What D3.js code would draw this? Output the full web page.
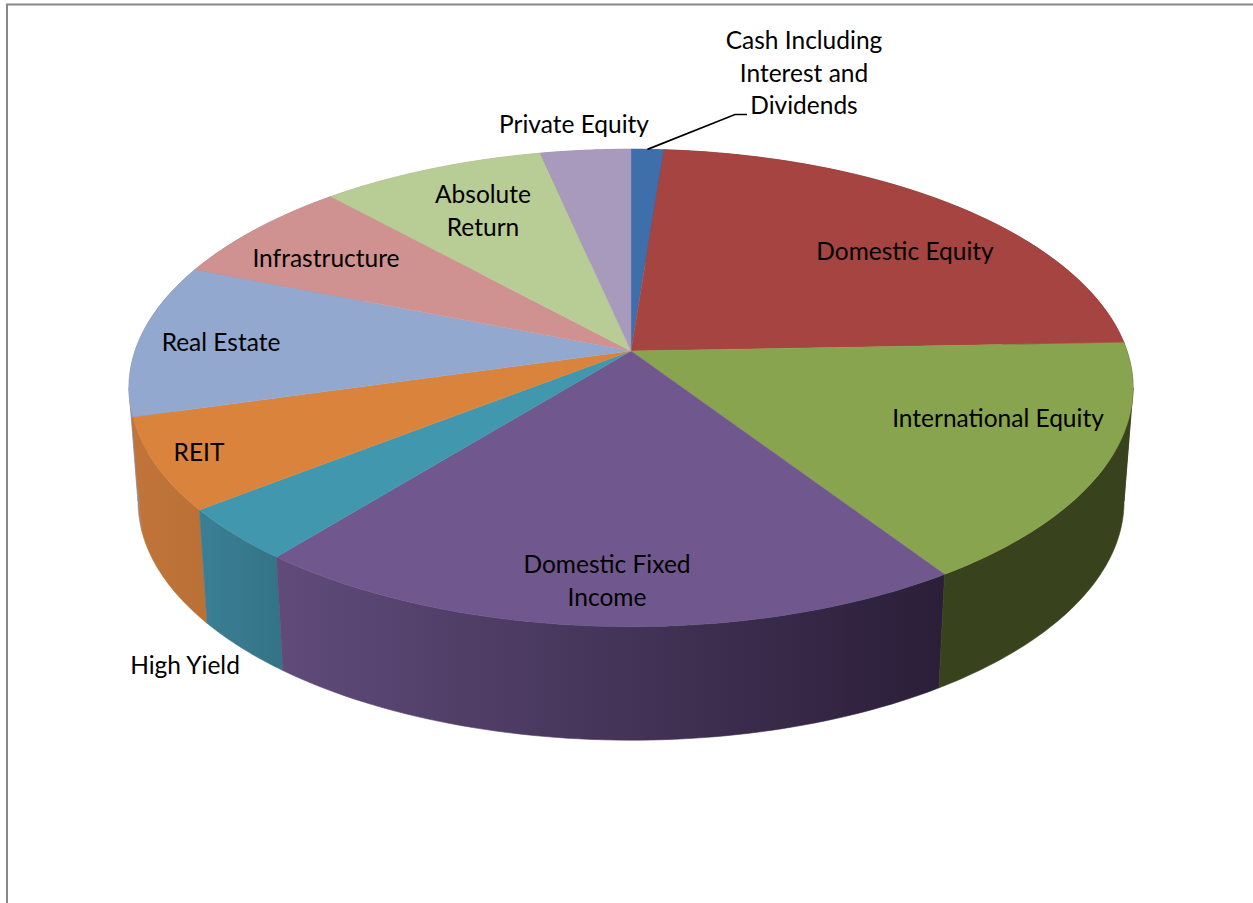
<!DOCTYPE html>
<html><head><meta charset="utf-8">
<script src="https://cdn.jsdelivr.net/npm/d3@7"></script>
<style>html,body{margin:0;padding:0;background:#fff}svg{display:block}</style>
</head><body><svg id="c" width="1253" height="903"></svg>
<script>
const categories=["Cash Including Interest and Dividends","Domestic Equity","International Equity","Domestic Fixed Income","High Yield","REIT","Real Estate","Infrastructure","Absolute Return","Private Equity"];
const values=[1.22,23.2,16.3,20.1,3.6,6.2,10.4,7.2,8.4,3.38];
const topColors=["#3F6FAB","#A64442","#89A44E","#70588E","#4197AE","#D9833D","#92A8CF","#CF9291","#B8CC95","#A89ABC"];
const sideColors=[["#33598a","#33598a"],["#6b2b2a","#6b2b2a"],["#38431E","#38431E"],["#604B7A","#2A1E38"],["#3A7F94","#357488"],["#C0743A","#BB7135"],["#C0743A","#C0743A"],["#b37e7d","#b37e7d"],["#9fb081","#9fb081"],["#9185a2","#9185a2"]];
const labelLines=[["Cash Including","Interest and","Dividends"],["Domestic Equity"],["International Equity"],["Domestic Fixed","Income"],["High Yield"],["REIT"],["Real Estate"],["Infrastructure"],["Absolute","Return"],["Private Equity"]];
const labelCentres=[[804,73],[905,251],[998,418],[607,581],[185,665],[199,452],[221,342],[326,258],[483,211],[574,124]];

const svg=d3.select("#c");
const W=1253,H=903;
svg.append("path").attr("d",d3.line()([[W,4.5],[7,4.5],[7,H]])).attr("fill","none").attr("stroke","#888").attr("stroke-width",2);

// perspective projection of the tilted disc
const apex=[631,351],A=496,B=233,K=-0.1548,DEPTH=113.5,SHRINK=0.982;
const proj=(th)=>{const s=Math.sin(th),d=-Math.cos(th),w=1+K*d;return [apex[0]+A*s/w,apex[1]+B*d/w];};
const low=(p)=>[apex[0]+(p[0]-apex[0])*SHRINK,p[1]+DEPTH];
const arcs=d3.pie().sort(null).value(d=>d)(values);
const steps=(a,b)=>d3.range(0,1.0001,1/60).map(t=>a+(b-a)*t);
// angles where the rim turns from visible to hidden
const tangentA=Math.acos(K),tangentB=2*Math.PI-tangentA;

const defs=svg.append("defs");
const line=d3.line().curve(d3.curveLinear);

// side wall, drawn last slice first, split at the silhouette so the wall keeps its tangent edges
arcs.slice().reverse().forEach((a)=>{
  const i=a.index;
  const cuts=[a.startAngle,...[tangentA,tangentB].filter(t=>t>a.startAngle&&t<a.endAngle),a.endAngle];
  const allX=d3.extent(steps(a.startAngle,a.endAngle).map(proj),p=>p[0]);
  const id="g"+i;
  const g=defs.append("linearGradient").attr("id",id).attr("gradientUnits","userSpaceOnUse")
    .attr("x1",allX[0]).attr("x2",allX[1]).attr("y1",0).attr("y2",0);
  g.append("stop").attr("offset",0).attr("stop-color",sideColors[i][0]);
  g.append("stop").attr("offset",1).attr("stop-color",sideColors[i][1]);
  d3.pairs(cuts).forEach(([s,e])=>{
    const outer=steps(s,e).map(proj);
    const lo=outer.map(low).reverse();
    svg.append("path").attr("d",line(outer.concat(lo))+"Z").attr("fill",`url(#${id})`)
      .attr("stroke",i===6?"#8d9cb8":sideColors[i][0]===sideColors[i][1]?sideColors[i][0]:`url(#${id})`).attr("stroke-width",0.6);
  });
});

// top surface
arcs.forEach((a,i)=>{
  const pts=[apex].concat(steps(a.startAngle,a.endAngle).map(proj));
  svg.append("path").attr("d",line(pts)+"Z").attr("fill",topColors[i]).attr("stroke",topColors[i]).attr("stroke-width",0.4);
});

// leader line
const cashMid=proj((arcs[0].startAngle+arcs[0].endAngle)/2);
const cashLab=labelCentres[0];
svg.append("path").attr("d",line([cashMid,[cashLab[0]-69,cashLab[1]+41.5],[cashLab[0]-57,cashLab[1]+41.5]])).attr("fill","none").attr("stroke","#000").attr("stroke-width",1.7);

// labels
const LH=32.5;
labelLines.forEach((ls,i)=>{
  const c=labelCentres[i];
  const t=svg.append("text").attr("text-anchor","middle")
    .attr("font-family","Lato, 'Open Sans', sans-serif").attr("font-size",24.5).attr("fill","#000");
  ls.forEach((s,j)=>t.append("tspan").attr("x",c[0]).attr("y",c[1]+(j-(ls.length-1)/2)*LH+8.5).text(s));
});
</script></body></html>
